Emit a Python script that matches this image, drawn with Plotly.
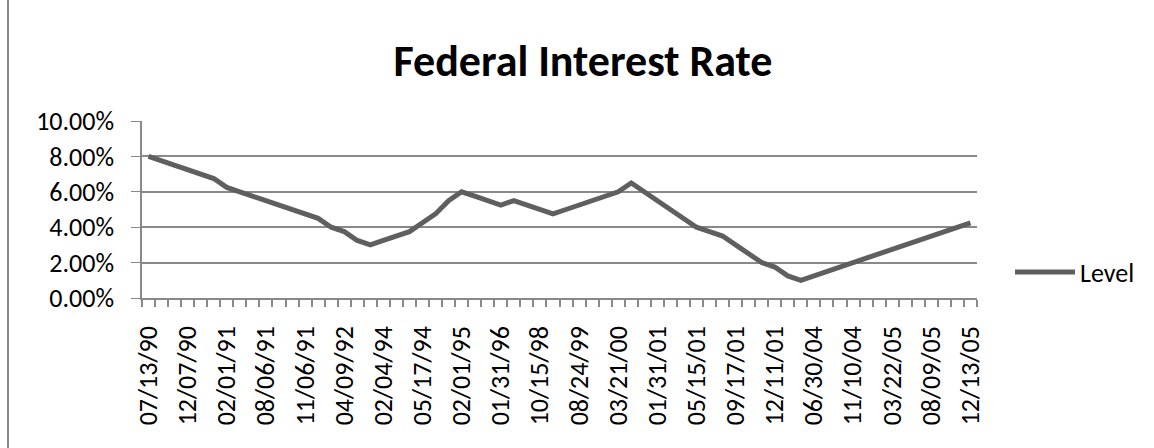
import plotly.graph_objects as go

dates = ["07/13/90", "10/29/90", "11/13/90", "12/07/90", "12/19/90", "01/09/91", "02/01/91",
         "03/08/91", "04/30/91", "08/06/91", "09/13/91", "10/31/91", "11/06/91", "12/06/91",
         "12/20/91", "04/09/92", "07/02/92", "09/04/92", "02/04/94", "03/22/94", "04/18/94",
         "05/17/94", "08/16/94", "11/15/94", "02/01/95", "07/06/95", "12/19/95", "01/31/96",
         "03/25/97", "09/29/98", "10/15/98", "11/17/98", "06/30/99", "08/24/99", "11/16/99",
         "02/02/00", "03/21/00", "05/16/00", "01/03/01", "01/31/01", "03/20/01", "04/18/01",
         "05/15/01", "06/27/01", "08/21/01", "09/17/01", "10/02/01", "11/06/01", "12/11/01",
         "11/06/02", "06/25/03", "06/30/04", "08/10/04", "09/21/04", "11/10/04", "12/14/04",
         "02/02/05", "03/22/05", "05/03/05", "06/30/05", "08/09/05", "09/20/05", "11/01/05",
         "12/13/05"]
level = [0.0800, 0.0775, 0.0750, 0.0725, 0.0700, 0.0675, 0.0625,
         0.0600, 0.0575, 0.0550, 0.0525, 0.0500, 0.0475, 0.0450,
         0.0400, 0.0375, 0.0325, 0.0300, 0.0325, 0.0350, 0.0375,
         0.0425, 0.0475, 0.0550, 0.0600, 0.0575, 0.0550, 0.0525,
         0.0550, 0.0525, 0.0500, 0.0475, 0.0500, 0.0525, 0.0550,
         0.0575, 0.0600, 0.0650, 0.0600, 0.0550, 0.0500, 0.0450,
         0.0400, 0.0375, 0.0350, 0.0300, 0.0250, 0.0200, 0.0175,
         0.0125, 0.0100, 0.0125, 0.0150, 0.0175, 0.0200, 0.0225,
         0.0250, 0.0275, 0.0300, 0.0325, 0.0350, 0.0375, 0.0400,
         0.0425]
label_step = 3

idx = list(range(len(dates)))
tick_idx = idx[::label_step]
tick_txt = [dates[i] for i in tick_idx]

FONT = "Calibri, Carlito, Lato, sans-serif"
GRID = "#898989"
W, H = 1154, 448
L, R, T, B = 142, 177, 121, 150
pw, ph = W - L - R, H - T - B

fig = go.Figure()
fig.add_trace(go.Scatter(x=idx, y=level, mode="lines", name="Level",
                         line=dict(color="#5f5f5f", width=5)))

fig.update_layout(
    width=W, height=H,
    margin=dict(l=L, r=R, t=T, b=B, autoexpand=False),
    paper_bgcolor="white", plot_bgcolor="white",
    font=dict(family=FONT, size=26, color="black"),
    title=dict(text="<b>Federal Interest Rate</b>", x=583 / W, xref="container",
               y=1 - 61 / H, yref="container", xanchor="center", yanchor="middle",
               font=dict(family=FONT, size=44, color="black")),
    showlegend=True,
    legend=dict(x=(1010 - L) / pw, y=(298 - 272) / ph, xanchor="left", yanchor="middle",
                font=dict(family=FONT, size=26), bgcolor="rgba(0,0,0,0)",
                itemwidth=60),
    xaxis=dict(range=[-0.5, len(dates) - 0.5], tickmode="array", tickvals=tick_idx,
               ticktext=tick_txt, tickangle=-90, ticks="outside", ticklen=16,
               tickcolor="rgba(0,0,0,0)", showgrid=False, zeroline=False,
               showline=True, linecolor=GRID, linewidth=1.5,
               tickfont=dict(family=FONT, size=26),
               minor=dict(tick0=-0.5, dtick=1, ticks="outside", ticklen=7,
                          tickcolor=GRID, tickwidth=1.5, showgrid=False)),
    yaxis=dict(range=[0, 0.10], dtick=0.02, tickformat=".2%", showgrid=True,
               gridcolor=GRID, gridwidth=1.5, zeroline=False, showline=True,
               linecolor=GRID, linewidth=1.5, ticks="outside", ticklen=9,
               tickcolor=GRID, ticklabelstandoff=12,
               tickfont=dict(family=FONT, size=26)),
    shapes=[
        dict(type="line", xref="paper", yref="paper",
             x0=(8 - L) / pw, x1=(8 - L) / pw, y0=(H - T - 10) / ph, y1=-B / ph - 0.1,
             line=dict(color=GRID, width=2)),
        dict(type="line", xref="paper", yref="paper",
             x0=(8 - L) / pw, x1=(W - L + 10) / pw, y0=(H - T - 10) / ph, y1=(H - T - 10) / ph,
             line=dict(color=GRID, width=2)),
    ],
)

fig.write_html("out.html")
